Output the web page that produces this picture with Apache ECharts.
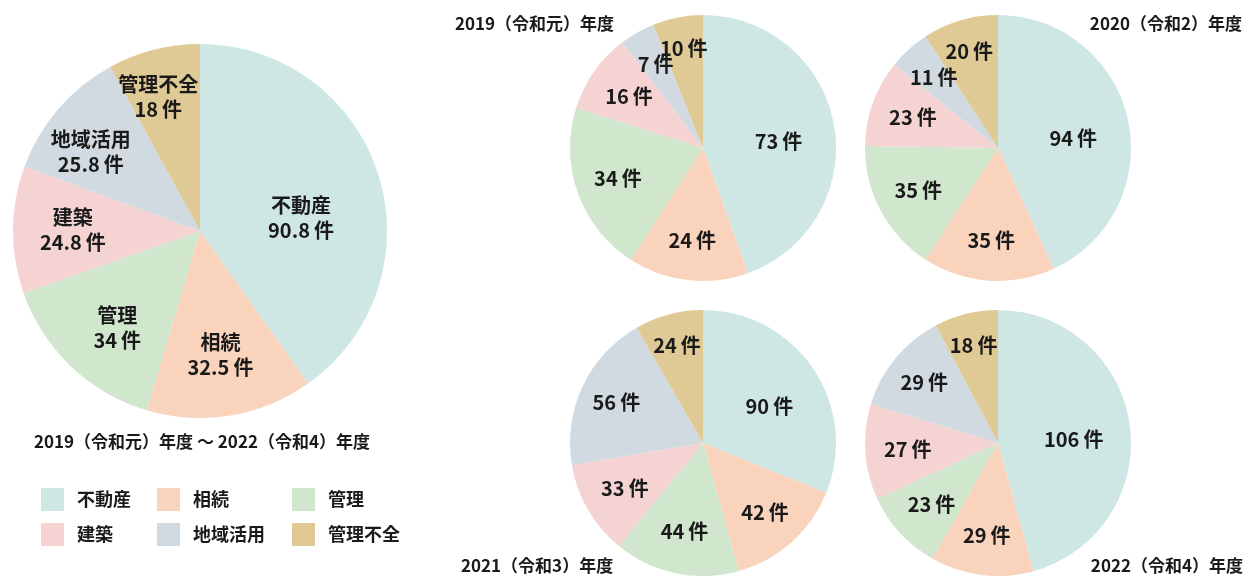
<!DOCTYPE html>
<html>
<head>
<meta charset="utf-8">
<script src="https://cdn.jsdelivr.net/npm/echarts@6/dist/echarts.min.js"></script>
<style>
  html, body { margin: 0; padding: 0; background: #ffffff; }
  #chart { width: 1248px; height: 576px; }
</style>
</head>
<body>
<div id="chart"></div>
<script>
// Consultation categories (件数 per fiscal year)
const categories = ['不動産', '相続', '管理', '建築', '地域活用', '管理不全'];
const colors = ['#cfe7e4', '#f9d3bb', '#d0e6cd', '#f6d3d3', '#d0dae0', '#dfca96'];

// Average over 2019–2022
const avgTitle = '2019（令和元）年度 ～ 2022（令和4）年度';
const avgValues = [90.8, 32.5, 34, 24.8, 25.8, 18];

const yearTitles = ['2019（令和元）年度', '2020（令和2）年度', '2021（令和3）年度', '2022（令和4）年度'];
const values2019 = [73, 24, 34, 16, 7, 10];
const values2020 = [94, 35, 35, 23, 11, 20];
const values2021 = [90, 42, 44, 33, 56, 24];
const values2022 = [106, 29, 23, 27, 29, 18];

// Label placement: share of the radius, and a small turn (degrees) off the slice's mid-angle
const avgLabelRadius = [0.545, 0.67, 0.68, 0.68, 0.72, 0.75];
const avgLabelTurn = [10, 0, -3, 0, -5, -3];
const yearLabelRadius = [0.57, 0.7, 0.68, 0.68, 0.72, 0.76];
const yearLabelTurn = [5, 0, 0, 0, 0, 0];

const FONT = '"Noto Sans CJK JP", "Noto Sans", sans-serif';
const TEXT = '#1a1a1a';
const WEIGHT = 'bold';

const pies = [
  { values: avgValues, center: [200, 231], r: 187, fracs: avgLabelRadius, turns: avgLabelTurn, withName: true },
  { values: values2019, center: [703, 148], r: 133, fracs: yearLabelRadius, turns: yearLabelTurn, withName: false },
  { values: values2020, center: [998, 148], r: 133, fracs: yearLabelRadius, turns: yearLabelTurn, withName: false },
  { values: values2021, center: [703, 443], r: 133, fracs: yearLabelRadius, turns: yearLabelTurn, withName: false },
  { values: values2022, center: [998, 443], r: 133, fracs: yearLabelRadius, turns: yearLabelTurn, withName: false }
];

function labelSpot(p, i) {
  const total = p.values.reduce((a, b) => a + b, 0);
  let before = 0;
  for (let k = 0; k < i; k++) before += p.values[k];
  const mid = (before + p.values[i] / 2) / total * Math.PI * 2 + p.turns[i] * Math.PI / 180;
  const d = p.r * p.fracs[i];
  return { x: p.center[0] + d * Math.sin(mid), y: p.center[1] - d * Math.cos(mid) };
}

const series = pies.map((p) => ({
  type: 'pie',
  center: p.center,
  radius: [0, p.r],
  startAngle: 90,
  clockwise: true,
  silent: true,
  animation: false,
  itemStyle: { borderWidth: 0 },
  label: {
    show: true,
    position: 'inside',
    align: 'center',
    verticalAlign: 'middle',
    color: TEXT,
    fontFamily: FONT,
    fontSize: 20,
    fontWeight: WEIGHT,
    lineHeight: 25,
    formatter: (prm) => (p.withName ? prm.name + '\n' : '') + prm.value + '\u2009件'
  },
  labelLine: { show: false },
  labelLayout: (prm) => labelSpot(p, prm.dataIndex),
  data: categories.map((c, i) => ({ name: c, value: p.values[i], itemStyle: { color: colors[i] } }))
}));

const legendCommon = {
  orient: 'vertical',
  selectedMode: false,
  icon: 'rect',
  itemWidth: 23,
  itemHeight: 23,
  itemGap: 12,
  padding: 0,
  textStyle: { color: TEXT, fontFamily: FONT, fontSize: 18, fontWeight: WEIGHT, padding: [0, 0, 0, 8] }
};

const option = {
  backgroundColor: '#ffffff',
  color: colors,
  title: [
    { text: avgTitle, left: 34, top: 433 },
    { text: yearTitles[0], left: 455, top: 15 },
    { text: yearTitles[1], right: 6, top: 15 },
    { text: yearTitles[2], left: 461, top: 557 },
    { text: yearTitles[3], right: 5, top: 557 }
  ].map(t => Object.assign(t, {
    padding: 0,
    textStyle: { color: TEXT, fontFamily: FONT, fontSize: 17, fontWeight: WEIGHT }
  })),
  legend: [
    Object.assign({ left: 41, top: 488, data: [categories[0], categories[3]] }, legendCommon),
    Object.assign({ left: 157, top: 488, data: [categories[1], categories[4]] }, legendCommon),
    Object.assign({ left: 292, top: 488, data: [categories[2], categories[5]] }, legendCommon)
  ],
  series: series
};

const chart = echarts.init(document.getElementById('chart'), null, { renderer: 'canvas' });
chart.setOption(option);
</script>
</body>
</html>
